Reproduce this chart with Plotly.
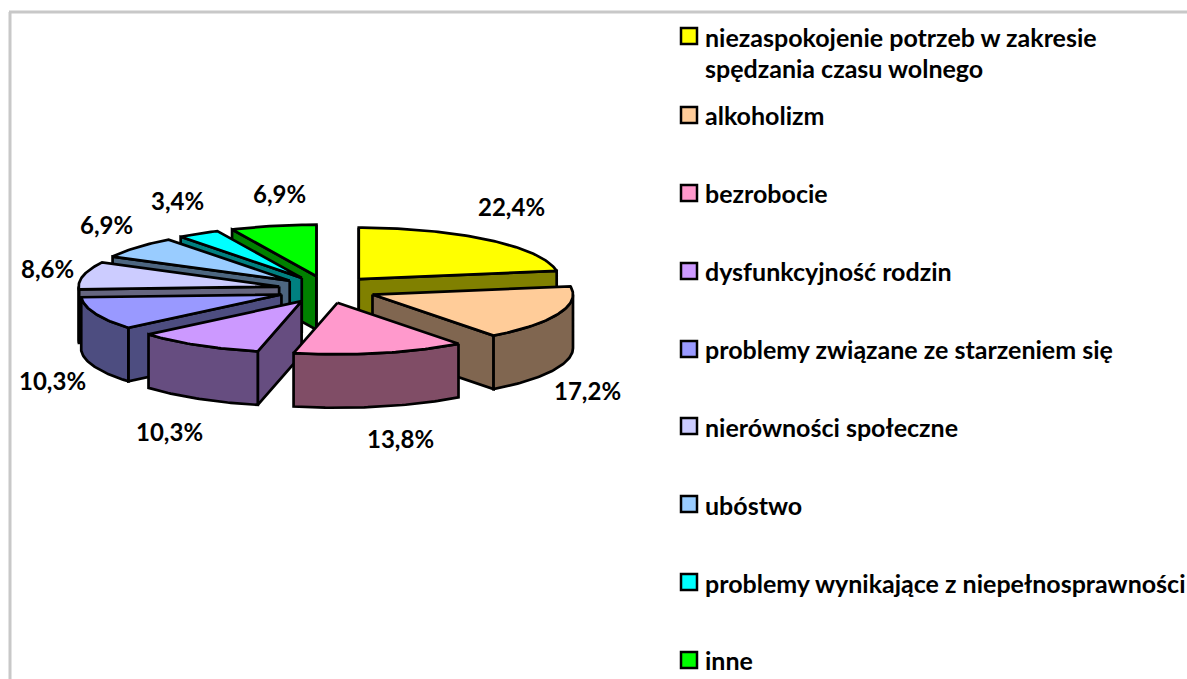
import numpy as np
import plotly.graph_objects as go

categories = [
    "niezaspokojenie potrzeb w zakresie<br>spędzania czasu wolnego",
    "alkoholizm",
    "bezrobocie",
    "dysfunkcyjność rodzin",
    "problemy związane ze starzeniem się",
    "nierówności społeczne",
    "ubóstwo",
    "problemy wynikające z niepełnosprawności",
    "inne",
]
values = [22.4, 17.2, 13.8, 10.3, 10.3, 8.6, 6.9, 3.4, 6.9]
top_colors = ["#FFFF00", "#FFCC99", "#FF99CC", "#CC99FF", "#9999FF",
              "#CCCCFF", "#99CCFF", "#00FFFF", "#00FF00"]
side_colors = ["#808000", "#806650", "#804D66", "#664D80", "#4D4D80",
               "#666680", "#4D6680", "#008080", "#008000"]
label_xy = [(511, 206), (587, 390), (400, 438), (169, 431), (52, 380),
            (47, 268), (106, 224), (177, 200), (279, 193)]
legend_y = [37, 115, 193, 271, 349, 427, 505, 583, 660]
swatch_y = [37, 116, 194, 272, 350, 427, 505, 583, 661]

# projection of the tilted pie onto the page
CX, CY = 327.0, 289.5
RX, RY = 200.5, 51.5
EX, EY = 49.0, 13.6
DEPTH = 53.5
FONT = "Lato"
FS_LEGEND = 25
FS_LABEL = 24
LW = 2.7


def pt(deg):
    r = np.radians(deg)
    return RX * np.sin(r), -RY * np.cos(r)


def arc(a0, a1):
    n = max(int(abs(a1 - a0)), 2) + 1
    ang = np.linspace(a0, a1, n)
    return RX * np.sin(np.radians(ang)), -RY * np.cos(np.radians(ang))


fig = go.Figure()


def poly(xs, ys, color):
    xs, ys = list(xs), list(ys)
    fig.add_trace(go.Scatter(
        x=xs + xs[:1], y=ys + ys[:1], mode="lines", fill="toself",
        fillcolor=color, line=dict(color="black", width=LW),
        hoverinfo="skip", showlegend=False))


total = sum(values)
edges = np.concatenate([[0], np.cumsum(values)]) / total * 360
slices = []
for i, v in enumerate(values):
    a0, a1 = edges[i], edges[i + 1]
    mid = np.radians((a0 + a1) / 2)
    ox = CX + EX * np.sin(mid)
    oy = CY - EY * np.cos(mid)
    slices.append((oy, i, a0, a1, ox))

for oy, i, a0, a1, ox in sorted(slices):
    side, top = side_colors[i], top_colors[i]
    for ang, vis in ((a0, np.sin(np.radians(a0)) < 0.001),
                     (a1, np.sin(np.radians(a1)) > -0.001)):
        if vis:
            px, py = pt(ang)
            poly([ox, ox + px, ox + px, ox],
                 [oy, oy + py, oy + py + DEPTH, oy + DEPTH], side)
    lo, hi = max(a0, 90), min(a1, 270)
    if hi > lo:
        ax, ay = arc(lo, hi)
        poly(np.r_[ox + ax, ox + ax[::-1]],
             np.r_[oy + ay, oy + ay[::-1] + DEPTH], side)
    ax, ay = arc(a0, a1)
    poly(np.r_[ox, ox + ax], np.r_[oy, oy + ay], top)

annotations = []
for v, (lx, ly) in zip(values, label_xy):
    annotations.append(dict(
        x=lx, y=ly, text=f"<b>{v:.1f}%</b>".replace(".", ","),
        showarrow=False, xanchor="center", yanchor="middle",
        font=dict(family=FONT, size=FS_LABEL, color="black")))

shapes = [
    dict(type="line", x0=10, x1=10, y0=12, y1=679,
         line=dict(color="#C8C8C8", width=3)),
    dict(type="line", x0=9, x1=1187, y0=12, y1=12,
         line=dict(color="#C8C8C8", width=3)),
]
for name, col, ly, sy in zip(categories, top_colors, legend_y, swatch_y):
    shapes.append(dict(type="rect", x0=681, x1=697, y0=sy - 9, y1=sy + 7,
                       fillcolor=col, line=dict(color="black", width=2.5)))
    if "<br>" in name:
        a, b = name.split("<br>")
        rows = [(a, ly), (b, ly + 31)]
    else:
        rows = [(name, ly)]
    for t, ty in rows:
        annotations.append(dict(
            x=703, y=ty, text=f"<b>{t}</b>", showarrow=False,
            xanchor="left", yanchor="middle", align="left",
            font=dict(family=FONT, size=FS_LEGEND, color="black")))

fig.update_layout(
    width=1187, height=679, margin=dict(l=0, r=0, t=0, b=0),
    paper_bgcolor="white", plot_bgcolor="white", showlegend=False,
    xaxis=dict(range=[0, 1187], visible=False, fixedrange=True),
    yaxis=dict(range=[679, 0], visible=False, fixedrange=True),
    shapes=shapes, annotations=annotations,
)
fig.write_html("out.html", config={"displayModeBar": False},
               post_script="document.body.style.margin='0';document.body.style.overflow='hidden';")
